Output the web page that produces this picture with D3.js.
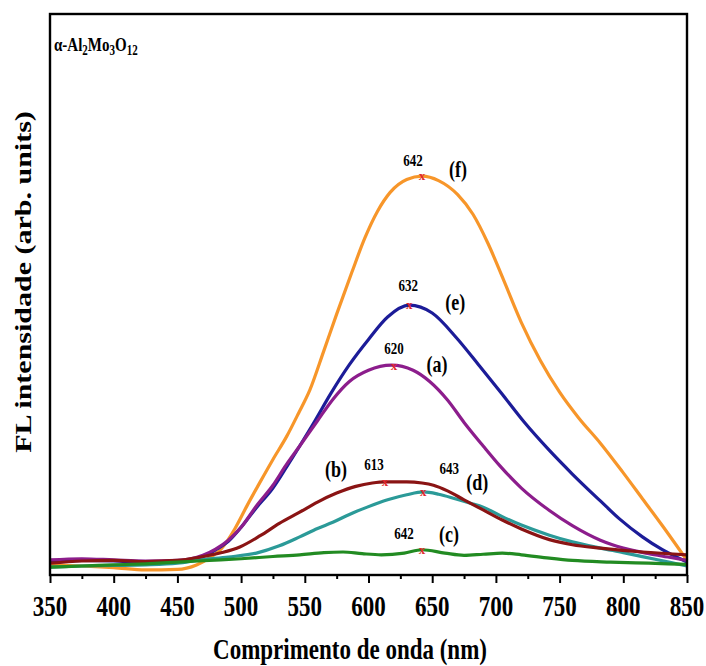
<!DOCTYPE html>
<html>
<head>
<meta charset="utf-8">
<script src="https://cdn.jsdelivr.net/npm/d3@7"></script>
<style>
  body { margin: 0; background: #fff; }
  svg text { font-family: "Liberation Serif", "Times New Roman", serif; font-weight: bold; fill: #000; }
</style>
</head>
<body>
<div id="chart"></div>
<script>
// data: [wavelength nm, intensity (arb.)]
const curveA = [[350,2.7],[375,2.9],[400,2.7],[425,2.5],[450,2.6],[470,3.5],[480,4.6],[490,6.2],[500,8.5],[512,12.3],[525,16],[535,19.5],[546,23],[560,27.5],[572,31.3],[585,34.5],[600,36.5],[618,37.4],[635,36.5],[648,34.5],[662,31.2],[675,27.2],[690,23],[703,19.5],[720,15.5],[742,11.5],[760,8.8],[782,6.2],[800,4.8],[820,3.8],[835,3.2],[850,2.6]];
const curveB = [[350,2.1],[375,2.5],[400,2.6],[425,2.4],[450,2.6],[468,3.2],[485,4.0],[499,5.0],[515,7.0],[530,9.2],[546,11.2],[560,13.0],[575,14.6],[590,15.8],[603,16.4],[613,16.6],[630,16.6],[642,16.4],[651,16.0],[662,15.0],[675,13.4],[690,11.6],[705,9.8],[720,8.2],[742,6.3],[760,5.4],[782,4.8],[815,4.1],[850,3.6]];
const curveC = [[350,1.4],[375,1.6],[400,1.8],[425,2.0],[450,2.3],[475,2.6],[500,2.9],[525,3.3],[546,3.6],[565,4.0],[580,4.1],[595,3.8],[610,3.6],[628,3.9],[642,4.5],[660,3.9],[675,3.5],[690,3.7],[705,3.9],[720,3.6],[742,3.0],[760,2.6],[790,2.3],[820,2.1],[850,1.9]];
const curveD = [[350,1.4],[375,1.6],[400,1.7],[425,1.8],[450,2.1],[468,2.7],[490,3.2],[512,3.9],[530,5.2],[546,6.8],[560,8.3],[572,9.4],[585,10.8],[599,12.1],[615,13.4],[630,14.3],[643,14.8],[655,14.4],[668,13.6],[680,12.8],[690,12.1],[705,10.4],[720,8.9],[742,7.1],[760,5.9],[782,4.8],[800,4.0],[825,2.8],[850,1.6]];
const curveE = [[350,2.3],[375,2.6],[400,2.5],[425,2.2],[450,2.4],[470,3.3],[480,4.5],[490,6],[500,8.5],[512,12],[525,15.5],[535,19],[546,23],[558,27.5],[570,32.2],[585,37.5],[600,42],[615,46],[632,48.1],[650,46.7],[669,42.3],[687,37.3],[705,32.2],[722,27.3],[742,22.2],[760,18],[782,13.2],[797,10],[815,6.8],[830,4.6],[850,2.3]];
const curveF = [[350,1.8],[375,1.6],[400,1.3],[425,0.9],[450,1.0],[465,1.8],[475,3.0],[485,4.8],[495,8.2],[505,12.5],[515,16.6],[525,20.6],[536,24.8],[545,28.8],[554,33],[565,40],[575,46.5],[587,54],[597,60],[607,64.8],[617,68.2],[630,70.5],[642,71.1],[655,70.3],[670,67.8],[682,64.3],[694,59],[706,52.6],[720,45],[735,38.2],[750,32.6],[765,28],[782,23.5],[800,18.2],[815,13.6],[830,9],[850,2.6]];

const sampleNames = ['(f)', '(e)', '(a)', '(d)', '(b)', '(c)'];
const sampleCurves = [curveF, curveE, curveA, curveD, curveB, curveC];
const peakNm = [642, 632, 620, 643, 613, 642];
const peakText = ['642', '632', '620', '643', '613', '642'];
const xTicks = [350, 400, 450, 500, 550, 600, 650, 700, 750, 800, 850];
const xMinorTicks = [375, 425, 475, 525, 575, 625, 675, 725, 775, 825];

// styling, kept apart from the data
const colors = ['#f7962a', '#1c1c98', '#8c1d8c', '#2b9a98', '#8a1414', '#228b22'];
// pixel offsets of [number label] and [letter label] from the peak marker
const labelOffsets = [
  [[-9, -10], [36, 1]],
  [[-1, -14], [46, 5]],
  [[0, -12], [43, 6]],
  [[26, -18], [54, -2]],
  [[-11, -12], [-49, -5]],
  [[-18, -11], [27, -8]]
];
const stretch = 1.25; // the reference text is taller than it is wide

const width = 706, height = 666;
const margin = { top: 14, right: 19, bottom: 91, left: 50 };

const svg = d3.select('#chart').append('svg')
  .attr('width', width)
  .attr('height', height);

const xScale = d3.scaleLinear().domain([350, 850]).range([margin.left, width - margin.right]);
const yScale = d3.scaleLinear().domain([0, 100]).range([height - margin.bottom, margin.top]);

function label(g, x, y, str, size, anchor) {
  return g.append('text')
    .attr('transform', 'translate(' + x + ',' + y + ') scale(1,' + stretch + ')')
    .attr('text-anchor', anchor || 'middle')
    .style('font-size', size + 'px')
    .text(str);
}

// curves
const line = d3.line()
  .x(d => xScale(d[0]))
  .y(d => yScale(d[1]))
  .curve(d3.curveMonotoneX);

const plot = svg.append('g');
sampleCurves.forEach((c, i) => {
  plot.append('path')
    .datum(c)
    .attr('fill', 'none')
    .attr('stroke', colors[i])
    .attr('stroke-width', 3.2)
    .attr('stroke-linejoin', 'round')
    .attr('d', line);
});

// peak markers and labels
function valueAt(c, nm) {
  const i = d3.bisector(d => d[0]).left(c, nm);
  if (c[i][0] === nm || i === 0) return c[i][1];
  const a = c[i - 1], b = c[i];
  return a[1] + (b[1] - a[1]) * (nm - a[0]) / (b[0] - a[0]);
}

const notes = svg.append('g');
sampleCurves.forEach((c, i) => {
  const px = xScale(peakNm[i]);
  const py = yScale(valueAt(c, peakNm[i]));
  notes.append('text')
    .attr('x', px).attr('y', py + 4)
    .attr('text-anchor', 'middle')
    .style('fill', '#e0282e')
    .style('font-size', '13px')
    .text('x');
  label(notes, px + labelOffsets[i][0][0], py + labelOffsets[i][0][1], peakText[i], 13);
  label(notes, px + labelOffsets[i][1][0], py + labelOffsets[i][1][1], sampleNames[i], 18);
});

// frame
svg.append('rect')
  .attr('x', margin.left).attr('y', margin.top)
  .attr('width', width - margin.left - margin.right)
  .attr('height', height - margin.top - margin.bottom)
  .attr('fill', 'none')
  .attr('stroke', '#000')
  .attr('stroke-width', 2.4);

// bottom axis: ticks from d3, labels placed with the same scale
const xAxis = d3.axisBottom(xScale).tickValues(xTicks).tickSize(8).tickFormat('');
const xAxisGroup = svg.append('g')
  .attr('transform', 'translate(0,' + (height - margin.bottom) + ')')
  .call(xAxis);
xAxisGroup.select('.domain').remove();
xAxisGroup.selectAll('line').attr('stroke-width', 2);

const xMinor = d3.axisBottom(xScale).tickValues(xMinorTicks).tickSize(4).tickFormat('');
const xMinorGroup = svg.append('g')
  .attr('transform', 'translate(0,' + (height - margin.bottom) + ')')
  .call(xMinor);
xMinorGroup.select('.domain').remove();
xMinorGroup.selectAll('line').attr('stroke-width', 2);

const tickLabels = svg.append('g');
xTicks.forEach(t => label(tickLabels, xScale(t), 616, String(t), 23));

// axis titles
label(svg, 350, 659, 'Comprimento de onda (nm)', 23);

svg.append('text')
  .attr('transform', 'translate(31,282) rotate(-90) scale(' + stretch + ',1)')
  .attr('text-anchor', 'middle')
  .style('font-size', '24px')
  .text('FL intensidade (arb. units)');

// sample name
const tag = svg.append('text')
  .attr('transform', 'translate(54,51) scale(1,' + stretch + ')')
  .style('font-size', '15px');
tag.append('tspan').text('α-Al');
tag.append('tspan').attr('dy', 3).style('font-size', '11px').text('2');
tag.append('tspan').attr('dy', -3).text('Mo');
tag.append('tspan').attr('dy', 3).style('font-size', '11px').text('3');
tag.append('tspan').attr('dy', -3).text('O');
tag.append('tspan').attr('dy', 3).style('font-size', '11px').text('12');
</script>
</body>
</html>
